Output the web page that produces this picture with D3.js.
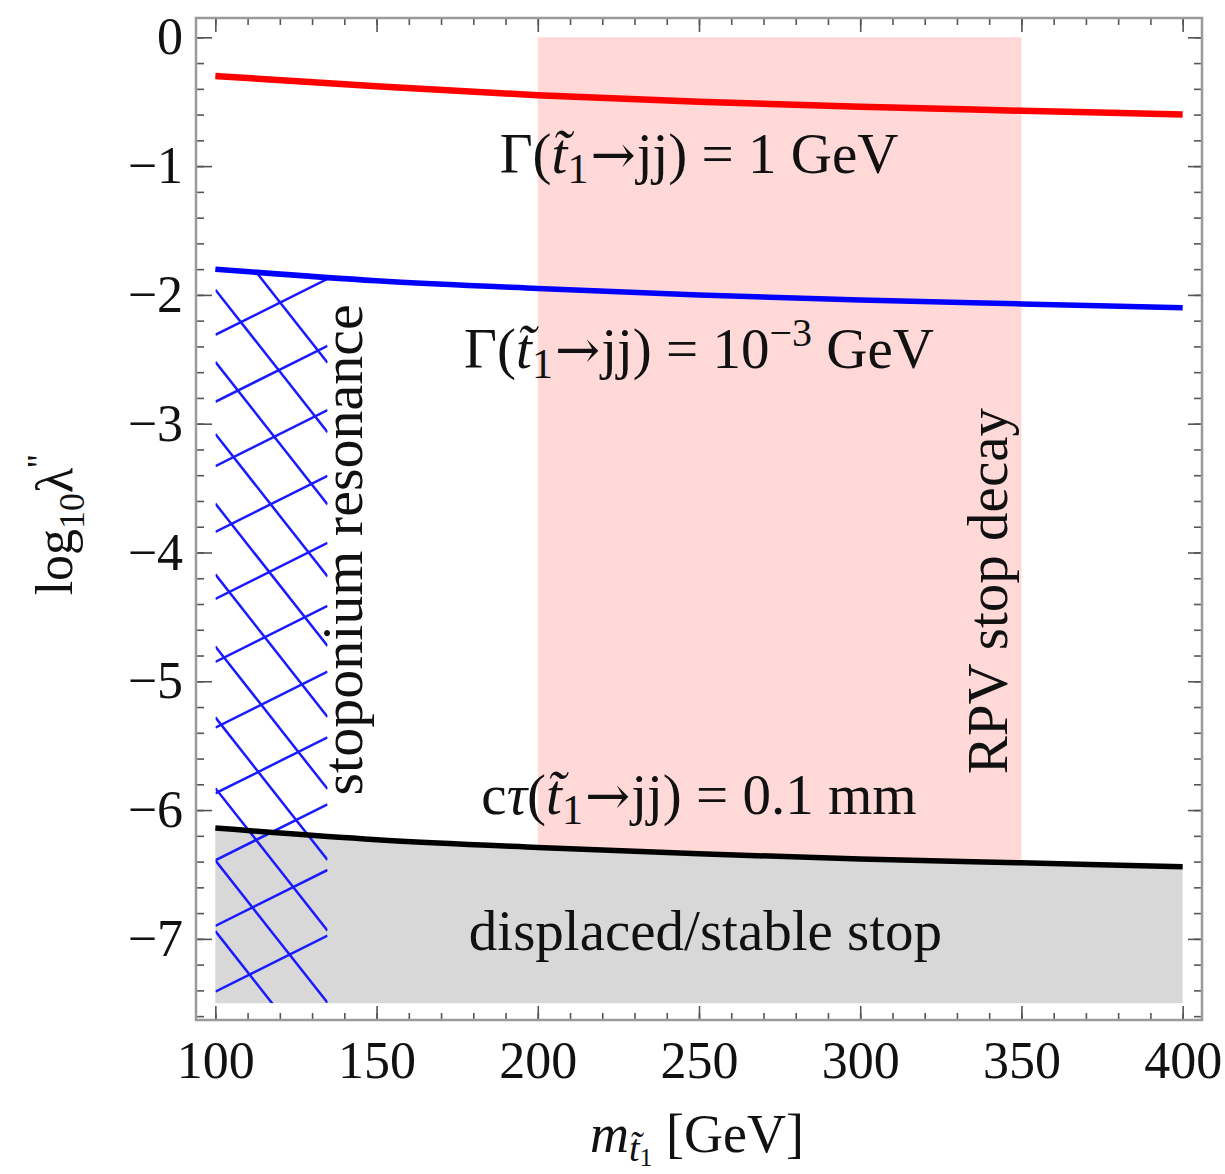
<!DOCTYPE html>
<html><head><meta charset="utf-8">
<script src="https://cdn.jsdelivr.net/npm/d3@7"></script>
<style>
body{margin:0;background:#fff}
text{font-family:"Liberation Serif","Times New Roman",serif;fill:#111}
</style>
</head><body>
<svg id="c" width="1225" height="1174"></svg>
<script>
// ---------- data ----------
const masses     = [100, 150, 200, 250, 300, 350, 400];          // m_stop [GeV]
const gamma1GeV  = [-0.30, -0.38, -0.45, -0.50, -0.54, -0.57, -0.60]; // log10 lambda'' : Gamma = 1 GeV
const gamma1MeV  = [-1.80, -1.89, -1.95, -2.00, -2.04, -2.07, -2.10]; // Gamma = 1e-3 GeV
const ctau01mm   = [-6.14, -6.23, -6.29, -6.34, -6.38, -6.41, -6.44]; // c tau = 0.1 mm
const rpvBand    = [200, 350];           // RPV stop decay mass band
const rpvTop     = 0;                    // top of the band
const stableFloor = -7.5;                // bottom of displaced/stable region
const hatchMass  = [100, 134.8];         // stoponium resonance hatch range
const hatchUpIntercepts   = [-2.31, -2.83, -3.33, -3.84, -4.36, -4.85, -5.36, -5.87, -6.39, -6.90, -7.41];
const hatchUpSlope        = 0.0125;      // per GeV
const hatchDownIntercepts = [-1.42, -1.96, -2.52, -3.08, -3.62, -4.17, -4.73, -5.28, -5.83, -6.39, -6.94];
const hatchDownSlope      = -0.0318;     // per GeV
const xTickMajor = [100, 150, 200, 250, 300, 350, 400];
const xTickMinor = d3.range(100, 401, 10);
const yTickMajor = [0, -1, -2, -3, -4, -5, -6, -7];
const yTickMinor = d3.range(0, -7.61, -0.2).map(v => +v.toFixed(1));
const xDomain = [94, 406];
const yDomain = [-7.63, 0.15];

// ---------- layout ----------
const L = 196, R = 1202, T = 18, B = 1020;
const svg = d3.select("#c");
const x = d3.scaleLinear().domain(xDomain).range([L, R]);
const y = d3.scaleLinear().domain(yDomain).range([B, T]);

const pts = arr => masses.map((m, i) => [m, arr[i]]);
const line = d3.line().x(d => x(d[0])).y(d => y(d[1])).curve(d3.curveMonotoneX);

// pink RPV band: from top down to the c tau curve
const band = masses.map((m, i) => ({m, lo: ctau01mm[i]})).filter(d => d.m >= rpvBand[0] && d.m <= rpvBand[1]);
svg.append("path")
  .attr("d", d3.area().x(d => x(d.m)).y0(y(rpvTop)).y1(d => y(d.lo)).curve(d3.curveMonotoneX)(band))
  .attr("fill", "#ffd8d8");

// grey displaced/stable region
const grey = masses.map((m, i) => ({m, lo: ctau01mm[i]}));
svg.append("path")
  .attr("d", d3.area().x(d => x(d.m)).y0(y(stableFloor)).y1(d => y(d.lo)).curve(d3.curveMonotoneX)(grey))
  .attr("fill", "#d8d8d8");

// hatch clip: below the 1e-3 GeV curve, above the floor, inside hatch mass range
const defs = svg.append("defs");
defs.append("clipPath").attr("id", "clipA").append("path")
  .attr("d", d3.area().x(d => x(d[0])).y0(y(stableFloor)).y1(d => y(d[1])).curve(d3.curveMonotoneX)(pts(gamma1MeV)));
defs.append("clipPath").attr("id", "clipB").append("rect")
  .attr("x", x(hatchMass[0])).attr("y", y(0)).attr("width", x(hatchMass[1]) - x(hatchMass[0]))
  .attr("height", y(stableFloor) - y(0));
const hg = svg.append("g").attr("clip-path", "url(#clipA)").append("g").attr("clip-path", "url(#clipB)");
const hatchLines = [];
hatchUpIntercepts.forEach(c => hatchLines.push([[hatchMass[0], c], [hatchMass[1], c + hatchUpSlope * (hatchMass[1] - hatchMass[0])]]));
hatchDownIntercepts.forEach(c => hatchLines.push([[hatchMass[0], c], [hatchMass[1], c + hatchDownSlope * (hatchMass[1] - hatchMass[0])]]));
hg.selectAll("line").data(hatchLines).join("line")
  .attr("x1", d => x(d[0][0])).attr("y1", d => y(d[0][1]))
  .attr("x2", d => x(d[1][0])).attr("y2", d => y(d[1][1]))
  .attr("stroke", "#1a1aff").attr("stroke-width", 2.5);

// curves
svg.append("path").attr("d", line(pts(gamma1GeV))).attr("fill", "none").attr("stroke", "#ff0000").attr("stroke-width", 6.5);
svg.append("path").attr("d", line(pts(gamma1MeV))).attr("fill", "none").attr("stroke", "#0000ff").attr("stroke-width", 5.5);
svg.append("path").attr("d", line(pts(ctau01mm))).attr("fill", "none").attr("stroke", "#000").attr("stroke-width", 5.5);

// ---------- frame & ticks ----------
const tickCol = "#555";
function styleAxis(g) {
  g.select(".domain").remove();
  g.selectAll(".tick line").attr("stroke", tickCol).attr("stroke-width", 1.6);
  g.selectAll(".tick text").style("font-size", "52px").attr("fill", "#111")
    .style("font-family", '"Liberation Serif","Times New Roman",serif');
}
const fmt = d3.format("d");
svg.append("g").attr("transform", `translate(0,${B})`)
  .call(d3.axisBottom(x).tickValues(xTickMinor).tickSize(-7).tickFormat("")).call(styleAxis);
svg.append("g").attr("transform", `translate(0,${B})`)
  .call(d3.axisBottom(x).tickValues(xTickMajor).tickSize(-14).tickPadding(21).tickFormat(fmt)).call(styleAxis);
svg.append("g").attr("transform", `translate(0,${T})`)
  .call(d3.axisTop(x).tickValues(xTickMinor).tickSize(-7).tickFormat("")).call(styleAxis);
svg.append("g").attr("transform", `translate(0,${T})`)
  .call(d3.axisTop(x).tickValues(xTickMajor).tickSize(-14).tickFormat("")).call(styleAxis);
svg.append("g").attr("transform", `translate(${L},0)`)
  .call(d3.axisLeft(y).tickValues(yTickMinor).tickSize(-8).tickFormat("")).call(styleAxis);
svg.append("g").attr("transform", `translate(${L},0)`)
  .call(d3.axisLeft(y).tickValues(yTickMajor).tickSize(-16).tickPadding(13).tickFormat(fmt)).call(styleAxis);
svg.append("g").attr("transform", `translate(${R},0)`)
  .call(d3.axisRight(y).tickValues(yTickMinor).tickSize(-8).tickFormat("")).call(styleAxis);
svg.append("g").attr("transform", `translate(${R},0)`)
  .call(d3.axisRight(y).tickValues(yTickMajor).tickSize(-14).tickFormat("")).call(styleAxis);

svg.append("rect").attr("x", L).attr("y", T).attr("width", R - L).attr("height", B - T)
  .attr("fill", "none").attr("stroke", "#9a9a9a").attr("stroke-width", 2.5);

// ---------- text ----------
function rich(g, parts, size) {
  const t = g.append("text").style("font-size", size + "px");
  parts.forEach(p => {
    const s = t.append("tspan").text(p.t);
    if (p.it) s.style("font-style", "italic");
    if (p.fs) s.style("font-size", p.fs + "px");
    if (p.ff) s.style("font-family", p.ff);
    if (p.dy) s.attr("dy", p.dy);
    if (p.dx) s.attr("dx", p.dx);
  });
  return t;
}
const FS = 57;
const sub = [{t: "t\u0303", it: 1}, {t: "1", fs: 42, dy: 10}];
const arrow = {t: "\u2192", ff: '"DejaVu Serif",serif', fs: 54, dy: -10, dx: 2};
function anno(mx, vy, parts) {
  rich(svg.append("g").attr("transform", `translate(${x(mx)},${y(vy)})`), parts, FS).attr("text-anchor", "middle");
}
anno(250, -1.05, [{t: "\u0393("}, ...sub, arrow, {t: "jj) = 1 GeV", dx: 1}]);
anno(250, -2.57, [{t: "\u0393("}, ...sub, arrow, {t: "jj) = 10", dx: 1}, {t: "\u22123", fs: 40, dy: -22}, {t: " GeV", dy: 22}]);
anno(250, -6.03, [{t: "c"}, {t: "\u03c4", it: 1}, {t: "("}, ...sub, arrow, {t: "jj) = 0.1 mm", dx: 1}]);
anno(252, -7.09, [{t: "displaced/stable stop"}]);

// rotated labels
rich(svg.append("g").attr("transform", `translate(${x(145.5)},${y(-3.98)}) rotate(-90)`),
  [{t: "stoponium resonance"}], 58).attr("text-anchor", "middle");
rich(svg.append("g").attr("transform", `translate(${x(345.4)},${y(-4.30)}) rotate(-90)`),
  [{t: "RPV stop decay"}], FS).attr("text-anchor", "middle");

// axis titles
rich(svg.append("g").attr("transform", `translate(72,525) rotate(-90)`),
  [{t: "log"}, {t: "10", fs: 36, dy: 12}, {t: "\u03bb", dy: -12}, {t: "''", fs: 36, dy: -20}], 52).attr("text-anchor", "middle");
rich(svg.append("g").attr("transform", `translate(697,1152)`),
  [{t: "m", it: 1}, {t: "t\u0303", it: 1, fs: 38, dy: 9}, {t: "1", fs: 26, dy: 5}, {t: " [GeV]", dy: -14}], 54).attr("text-anchor", "middle");
</script>
</body></html>
